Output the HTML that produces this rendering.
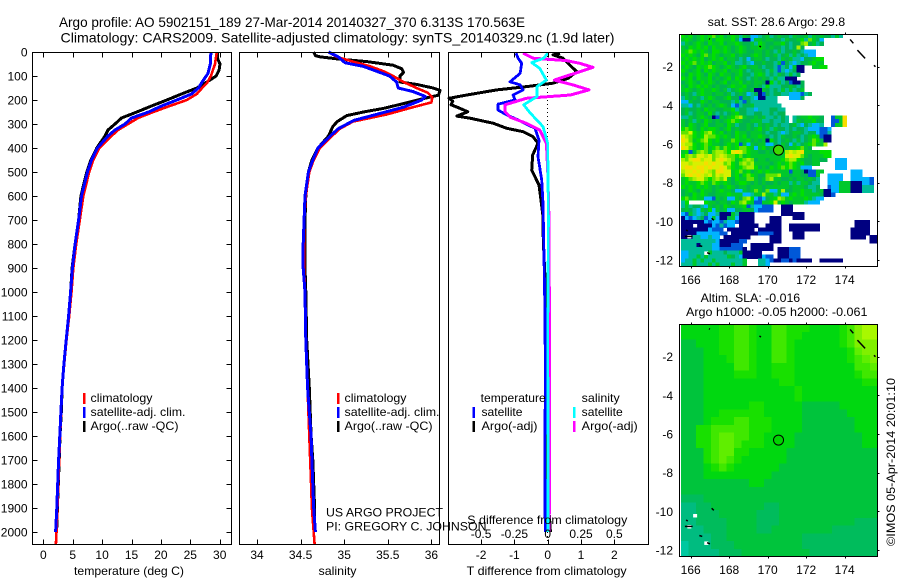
<!DOCTYPE html>
<html>
<head>
<meta charset="utf-8">
<title>Argo profile 5902151_189</title>
<style>
html,body{margin:0;padding:0;background:#fff;}
svg{display:block;}
text{font-family:"Liberation Sans",sans-serif;font-size:12px;fill:#000;}
.t14{font-size:14px;}
</style>
</head>
<body>
<svg id="chart" xmlns="http://www.w3.org/2000/svg" width="900" height="580" viewBox="0 0 900 580">
  <rect x="0" y="0" width="900" height="580" fill="#fff"/>
  <text class="t14" x="59" y="27" textLength="466" lengthAdjust="spacingAndGlyphs">Argo profile: AO 5902151_189 27-Mar-2014 20140327_370 6.313S 170.563E</text>
  <text class="t14" x="60.5" y="42.5" textLength="554" lengthAdjust="spacingAndGlyphs">Climatology: CARS2009. Satellite-adjusted climatology: synTS_20140329.nc (1.9d later)</text>
  <g id="plots"></g>

  <text x="74" y="575" textLength="110" lengthAdjust="spacingAndGlyphs">temperature (deg C)</text>
  <text x="318.5" y="575" textLength="38" lengthAdjust="spacingAndGlyphs">salinity</text>
  <text x="466.7" y="575" textLength="160" lengthAdjust="spacingAndGlyphs">T difference from climatology</text>
  <text x="467.3" y="524" textLength="160" lengthAdjust="spacingAndGlyphs">S difference from climatology</text>

  <g>
    <rect x="83" y="393" width="2.5" height="11" fill="#f00"/>
    <text x="90.5" y="402" textLength="62" lengthAdjust="spacingAndGlyphs">climatology</text>
    <rect x="83" y="407" width="2.5" height="11" fill="#00f"/>
    <text x="90.5" y="416" textLength="95" lengthAdjust="spacingAndGlyphs">satellite-adj. clim.</text>
    <rect x="83" y="421" width="2.5" height="11" fill="#000"/>
    <text x="90.5" y="430" textLength="88" lengthAdjust="spacingAndGlyphs">Argo(..raw -QC)</text>
  </g>
  <g>
    <rect x="337" y="393" width="2.5" height="11" fill="#f00"/>
    <text x="344.5" y="402" textLength="62" lengthAdjust="spacingAndGlyphs">climatology</text>
    <rect x="337" y="407" width="2.5" height="11" fill="#00f"/>
    <text x="344.5" y="416" textLength="95" lengthAdjust="spacingAndGlyphs">satellite-adj. clim.</text>
    <rect x="337" y="421" width="2.5" height="11" fill="#000"/>
    <text x="344.5" y="430" textLength="88" lengthAdjust="spacingAndGlyphs">Argo(..raw -QC)</text>
  </g>
  <g>
    <text x="480.7" y="402" textLength="65" lengthAdjust="spacingAndGlyphs">temperature</text>
    <rect x="472.5" y="407" width="2.5" height="11" fill="#00f"/>
    <text x="481.5" y="416" textLength="41" lengthAdjust="spacingAndGlyphs">satellite</text>
    <rect x="472.5" y="421" width="2.5" height="11" fill="#000"/>
    <text x="481.5" y="430" textLength="56" lengthAdjust="spacingAndGlyphs">Argo(-adj)</text>
    <text x="581.7" y="402" textLength="38" lengthAdjust="spacingAndGlyphs">salinity</text>
    <rect x="573" y="407" width="2.5" height="11" fill="#0ff"/>
    <text x="581.7" y="416" textLength="41" lengthAdjust="spacingAndGlyphs">satellite</text>
    <rect x="573" y="421" width="2.5" height="11" fill="#f0f"/>
    <text x="581.7" y="430" textLength="56" lengthAdjust="spacingAndGlyphs">Argo(-adj)</text>
  </g>
  <text x="326" y="516.5" textLength="117" lengthAdjust="spacingAndGlyphs">US ARGO PROJECT</text>
  <text x="326" y="530.5" textLength="160.5" lengthAdjust="spacingAndGlyphs">PI: GREGORY C. JOHNSON</text>

  <text x="707.7" y="26" textLength="137.5" lengthAdjust="spacingAndGlyphs">sat. SST: 28.6 Argo: 29.8</text>
  <text x="700.7" y="302" textLength="99.5" lengthAdjust="spacingAndGlyphs">Altim. SLA: -0.016</text>
  <text x="686" y="316" textLength="181.5" lengthAdjust="spacingAndGlyphs">Argo h1000: -0.05 h2000: -0.061</text>
  <text transform="translate(895,546) rotate(-90)" x="0" y="0" textLength="168" lengthAdjust="spacingAndGlyphs">©IMOS 05-Apr-2014 20:01:10</text>
</svg>

<script>
// ---- axis tick data ----
var depthTicks = [0,100,200,300,400,500,600,700,800,900,1000,1100,1200,1300,1400,1500,1600,1700,1800,1900,2000];
var tempTicks = [0,5,10,15,20,25,30];
var salTicks = [34,34.5,35,35.5,36];
var salTickLabels = ['34','34.5','35','35.5','36'];
var tDiffTicks = [-2,-1,0,1,2];
var sDiffTicks = [-0.5,-0.25,0,0.25,0.5];
var sDiffTickLabels = ['-0.5','-0.25','0','0.25','0.5'];
var lonTicks = [166,168,170,172,174];
var latTicks = [-2,-4,-6,-8,-10,-12];

// ---- temperature profiles ----
var tempArgoDepth = [0,25,50,75,100,130,150,175,200,225,250,275,300,325,350,400,450,500,600,700,800,900,1000,1100,1200,1300,1400,1500,1600,1700,1800,1900,2000];
var tempArgo = [29.6,29.6,30.05,29.9,29.4,27.5,26.1,23.5,21,18.4,15.9,13.3,12.2,11,10.5,9.1,8.1,7.4,6.4,6,5.4,4.9,4.65,4.3,3.9,3.5,3.2,3.06,2.84,2.7,2.55,2.4,2.27];
var tempClimDepth = [0,50,100,130,150,175,200,225,250,275,300,325,350,400,450,500,600,700,800,900,1000,1100,1200,1300,1400,1500,1600,1700,1800,1900,2000,2050];
var tempClim = [29.5,29.2,28.5,27.8,27,26.1,24.4,21.5,18.7,16.1,14.4,12.7,11.6,9.5,8.5,7.8,6.8,6.2,5.6,5.1,4.8,4.4,3.95,3.55,3.2,3.05,2.85,2.7,2.55,2.4,2.25,2.15];
var tempSatDepth = [0,50,90,125,150,175,200,225,250,275,300,325,350,400,450,500,600,700,800,900,1000,1100,1200,1300,1400,1500,1600,1700,1800,1900,2000];
var tempSat = [28.5,28.4,28,27,26.4,25.2,22.7,20.1,17.9,15,13.9,12.2,11,9.2,8.2,7.5,6.5,6,5.4,4.95,4.65,4.3,3.9,3.5,3.2,3,2.8,2.6,2.45,2.3,2.1];

// ---- salinity profiles ----
var salArgoDepth = [0,15,20,30,40,55,70,85,100,125,135,150,160,180,195,215,235,250,265,290,310,350,400,450,500,600,700,800,900,1000,1200,1400,1500,1600,1700,1800,1900,2000];
var salArgo = [34.65,34.67,34.72,34.95,35.26,35.56,35.66,35.68,35.64,35.64,35.83,36.02,36.1,36.08,35.9,35.68,35.45,35.22,35.03,34.92,34.87,34.82,34.7,34.63,34.59,34.56,34.55,34.55,34.55,34.56,34.57,34.6,34.61,34.62,34.64,34.65,34.66,34.66];
var salClimDepth = [0,20,40,60,80,100,125,150,170,190,210,230,260,290,320,350,400,450,500,600,700,800,900,1000,1200,1400,1500,1600,1700,1800,1900,2000,2050];
var salClim = [34.82,34.91,35.1,35.3,35.45,35.56,35.68,35.83,35.96,36.01,36,35.79,35.49,35.1,34.95,34.86,34.72,34.65,34.6,34.56,34.54,34.54,34.54,34.55,34.56,34.58,34.59,34.6,34.61,34.62,34.63,34.65,34.66];
var salSatDepth = [0,20,45,60,80,100,125,150,165,185,200,230,260,285,320,350,400,450,500,600,700,800,900,1000,1200,1400,1500,1600,1700,1800,1900,2000];
var salSat = [34.82,34.93,35.01,35.22,35.37,35.52,35.6,35.62,35.79,35.93,35.89,35.68,35.37,35.11,34.93,34.84,34.7,34.64,34.59,34.55,34.54,34.53,34.53,34.55,34.56,34.58,34.6,34.62,34.63,34.64,34.65,34.67];

// ---- difference profiles ----
var dTArgoDepth = [5,12,26,47,82,110,130,144,158,179,193,205,220,235,249,267,276,297,318,332,353,380,429,492,554,617,686,742,853,1000,1200,1400,1500,1650,1800,1950,2000];
var dTArgo = [0.37,0.16,0.46,0.61,0.87,0.61,0.16,-0.63,-1.53,-2.43,-2.96,-2.85,-2.9,-2.63,-2.4,-2.73,-2.33,-1.63,-1.23,-0.74,-0.44,-0.29,-0.45,-0.48,-0.26,-0.2,-0.14,-0.14,-0.11,-0.06,-0.03,0.02,0.04,-0.02,-0.04,0.06,0.08];
var dTSatDepth = [5,26,47,89,124,137,158,179,200,217,242,262,283,318,367,436,533,630,853,1100,1400,1650,1900,2000];
var dTSat = [-0.95,-0.89,-0.78,-0.83,-1.13,-0.83,-0.74,-1.04,-0.98,-1.49,-1.49,-1.23,-0.89,-0.38,-0.26,-0.29,-0.18,-0.14,-0.11,-0.08,-0.07,-0.09,-0.08,-0.07];
var dSArgoDepth = [5,26,36,47,64,82,117,137,158,179,193,220,249,272,297,325,380,492,700,853,1200,1500,1800,2000];
var dSArgo = [-0.185,-0.11,0.14,0.24,0.34,0.24,0.05,0.19,0.31,0.17,-0.16,-0.32,-0.32,-0.28,-0.16,-0.06,-0.01,0,0.01,0.01,0.015,0.015,0.015,0.01];
var dSSatDepth = [5,26,44,68,117,144,186,220,255,311,380,700,1200,1600,2000];
var dSSat = [0,-0.03,-0.12,-0.06,-0.01,-0.08,-0.08,-0.18,-0.13,-0.035,0,0.005,0,0.003,0.003];

// ---- SST map cells: one palette key per 0.2 degree cell, '.' = no data ----
var sstRows = [
"cbcabcbcdb cabcbtbauu tabtabaatb aabtbabaat bt",
"bcbabcbcac cbbcauwwub babbaatbaa bctdbau",
"tbabcbacbb cabbcbaabt cbaabbcata adeabta",
"bacbcbcacb bcbabcbabb cbabaatata ea",
"bcdcbcbacc bcbabcbaab babatbtaab atuuu",
"cbcbacdbcb abbcabaabc bababtabtb tatuu",
"bcbcbcabcb cabbatauab bataatbabt tuaabcc",
"cbcdbcbcab bcabttatua abaatbvatu taabcbb",
"bcbacbcdcb abcbabcabb ataatvtaub ww..bbcc",
"cbabcacbcb bcabbcatab batbtvtuta ww",
"bacbcbacba cbbabcaatb cbtatbatbt a",
"cbcacbbcab abcacbatab abatbttwww",
"abcbacbcba bcabbcabab bawctbtavw wa",
"bacbcbcbab aabcbbcaab atctttaaba ta",
"bcbabcbbcb abtabcbabw wbatatbtbt ab",
"abatbcbbab babtabauta wvataattuu uvta",
"tbabatbcba abcaavaatu wwttt...uu ua",
"uubaacbabb aaatbtvatt ttttt",
"ttuatbabab cbauvtaabt ttttt t",
"abaabacbba abbctaattu tttaatt",
"abtabbacat atabcaatta attataa",
"ttbabcbawv babcdebaab abttatat.t abbcbba..v bbg",
"babtbacbab abcdcbaabb bttattat.t babbcaa..v vbg",
"bacbabcaab bacbtaabat babatattab tuatuut..v bbg",
"cdcbacbccb abcabaabab cabtbaatat aatuuuvvu",
"ddfcbcdecb cabacbbabb bataatutab bataauvvt",
"fedcbceddc bcbacbcabb cbatatbaab atabcbvww",
"gfdbcdecbc abbdcbbcab abwcatabat btabdcaww",
"feecbcdcbb abcbcvbuba bbuuatbaub tabcdbbe",
"gfdcbcdbcd bdcbcddcbu bcabaababb cdba",
"bcvbdedbde edcfgfdcbb aababbbefe fgbbbbccc",
"cdedffefde feddcdbcbb bbbbbbbfgf fdbabbbcc",
"edfggeffdf gfedbcdeda bbabbbcdee cbaabbaa.. uuu",
"ffefffgfgf fdecbdedeb bbbabcbcdc bcaabb.... uuu",
"fggfggfgff gfdcbcdeec abacbcdcdc buuu...... uuu",
"effgfgfedg gffbcdbcab cbcbbbbbvb bawvvbb... ....uuu",
"dfgfgfefdf effbcacdcb aadddebbab baavvb..uu uu..uuu",
"bcdeffdcde dfbacbbddb abdebbaaba bbabat..uu uu..uuuuuv",
"bcbbcdcbdc bcbabccbab abaababbtb tbbatt..uu ubbbwwwuuv",
"cbcbcbcbab abcbabbabb babbbbbbab bbatta..vu ubbbwwwttt",
"abcbacbbab cbbauubabd baduubeaab bcbbtabwwu ubbbwwwttt",
"abacbcbaab bbcbbbuutb bebbtbuubc bcbbbbawwv",
"cdbcbbuuvb abuubadecu vuabcedbcb bbcbtuu",
"tc....cbba bbacbdecbv vbbcfbcbab bbtuuu",
"tbtaatubab acbabbcvtu uvvv..www.",
"abatubacub abuuaabbau vvvv..www.",
"uvbtutauut wwwbtwwww. ......wwww ww",
"wuvutavubu wwabuwwww. ...www...w ww",
"wwwwwwuvuu vtuuvwwww. ...www.... .......... .....wwww",
"wwwwwwwwuv tvuu.wwwww ..wwww..ww wwwwww.... .....wwww",
"wwwwwwwuvv v.wwwwwww. wwwwww..ww wwwwww.... ....wwwww",
"wwwwuuuuuu vv.wwwwwww vvvvww...w ww........ ....wwwww",
"wwwttuutuu .wwwwwww.. ...www...w ww........ ....wwww.w w",
"tttttttttu wwwwwvv... ...www.... .......... .........w w",
"ttttwtttuu wwwvvv..ww wwww......",
"ttttttttuu vvvvvvw.ww wwww.wwwvv v",
"uutttttbtt tatttbwwww w....wwwvv v",
"uuttbtbttt ttbatuwwww wuvv.wwwvv v",
"uttbtbttbt ttttttb... ttuvwwvvwv wwww..wwww ww",
"tttbtttbtb tttbttb... ttu......."
];
var sstKeys = ['a','b','c','d','e','f','g','t','u','v','w'];
var sstColours = ['#00b450','#00c82c','#00e000','#60e400','#a8f000','#d8f000','#f8dc00','#00bc98','#00b4ff','#0058d8','#000080'];

// ---- SLA map cells: one colour level per 0.4 degree cell ----
var slaRows = [
"44444556654466555444456899",
"44444556654466554444456899",
"33444556654466544444456888",
"33344556654466544444445788",
"33344456654466544444445678",
"33344446654455544444444667",
"33344445554455544444444566",
"33344444444445544444444455",
"33344444444444454444444444",
"33344444444444454444444444",
"33344444455444443333344444",
"33344555555444443333334444",
"33345556655544443333333444",
"33556666655544443333333444",
"33556776655444433333333344",
"33556776555444433333333344",
"33356775544444333333333333",
"33356765444444333333333333",
"33345654444443333333333333",
"33344444444433333333333333",
"33333333344333333333333333",
"33333333333333333333333333",
"22233333333333333333333333",
"11223333333223333333333333",
"11222333332223333333333333",
"11222233332223333333333222",
"11122233332233333333222222",
"11112233333333332222222222",
"01112223333333332222222222",
"01111222333333333222222222"
];
var slaColours = ['#00c8a0','#00bc80','#00bc5c','#00c43c','#00d810','#18e000','#40e800','#60ee00','#80f000','#a8f800'];

// ---- coastline fragments (longitude, latitude) ----
var coastLon = [[174.28,174.45],[174.66,175.06],[175.52,175.6],[166.95,167.0],[169.57,169.65],[167.09,167.2],[165.76,165.85],[166.45,166.6],[166.85,167.0],[165.7,166.1]];
var coastLat = [[-0.59,-0.79],[-1.14,-1.57],[-1.93,-2.0],[-0.55,-0.58],[-0.93,-0.98],[-9.84,-9.95],[-10.45,-10.5],[-11.25,-11.3],[-11.62,-11.68],[-10.78,-10.78]];

// ---- small islands shown as white gaps (longitude, latitude) ----
var islandLon = [166.23,166.81,165.93];
var islandLat = [-10.24,-11.66,-10.81];

// ---- float position ----
var floatLon = 170.563;
var floatLat = -6.313;
</script>

<script>
var NS = 'http://www.w3.org/2000/svg';
var layer = document.getElementById('plots');

function yDepth(d){ return 52 + d * 0.24; }
function xTemp(v){ return 43.3 + v * 5.88; }
function xSal(v){ return 257 + (v - 34) * 87.2; }
function xDT(v){ return 547.7 + v * 33.3; }
function xDS(v){ return 547.7 + v * 133.3; }
function xLon(v){ return 690.7 + (v - 166) * 19.25; }
function yLat1(v){ return 66.7 + (-2 - v) * 19.33; }
function yLat2(v){ return 356.7 + (-2 - v) * 19.33; }

function shape(tag, name, attrs, parent){
  var el = document.createElementNS(NS, tag);
  
  
  for (var k in attrs) { el.setAttribute(k, attrs[k]); }
  (parent || layer).appendChild(el);
  return el;
}
function seg(name, x1, y1, x2, y2){
  return shape('line', name, {x1:x1, y1:y1, x2:x2, y2:y2, stroke:'#000', 'stroke-width':1, 'shape-rendering':'crispEdges'});
}
function label(name, x, y, str, anchor){
  var el = shape('text', name, {x:x, y:y, 'text-anchor':anchor || 'middle'});
  el.textContent = str;
  return el;
}
function frame(name, x, y, w, h){
  return shape('rect', name, {x:x, y:y, width:w, height:h, fill:'none', stroke:'#000', 'stroke-width':1, 'shape-rendering':'crispEdges'});
}
function profile(name, colour, width, depths, values, xf){
  var pts = [];
  for (var i = 0; i < values.length; i++) {
    pts.push(xf(values[i]).toFixed(1) + ',' + yDepth(depths[i]).toFixed(1));
  }
  return shape('polyline', name, {points:pts.join(' '), fill:'none', stroke:colour, 'stroke-width':width, 'stroke-linejoin':'round', 'shape-rendering':'crispEdges'});
}

// ---- profile panels ----
var panelTop = 52.5, panelBottom = 544.5;
var p1L = 32.5, p1R = 231.5, p2L = 239.5, p2R = 439.5, p3L = 448.5, p3R = 648.5;

shape('line', 'zero-difference-line', {x1:547.7, y1:52, x2:547.7, y2:544, stroke:'#000', 'stroke-width':1, 'stroke-dasharray':'1 3', 'shape-rendering':'crispEdges'});

profile('temperature-argo-line', '#000', 3, tempArgoDepth, tempArgo, xTemp);
profile('temperature-climatology-line', '#f00', 2.6, tempClimDepth, tempClim, xTemp);
profile('temperature-satellite-line', '#00f', 3, tempSatDepth, tempSat, xTemp);

profile('salinity-argo-line', '#000', 3, salArgoDepth, salArgo, xSal);
profile('salinity-climatology-line', '#f00', 2.6, salClimDepth, salClim, xSal);
profile('salinity-satellite-line', '#00f', 3, salSatDepth, salSat, xSal);

profile('t-difference-argo-line', '#000', 3, dTArgoDepth, dTArgo, xDT);
profile('t-difference-satellite-line', '#00f', 2.8, dTSatDepth, dTSat, xDT);
profile('s-difference-argo-line', '#f0f', 3, dSArgoDepth, dSArgo, xDS);
profile('s-difference-satellite-line', '#0ff', 2.8, dSSatDepth, dSSat, xDS);

frame('temperature-panel-frame', p1L, panelTop, p1R - p1L, panelBottom - panelTop);
frame('salinity-panel-frame', p2L, panelTop, p2R - p2L, panelBottom - panelTop);
frame('difference-panel-frame', p3L, panelTop, p3R - p3L, panelBottom - panelTop);

depthTicks.forEach(function(d){
  var y = Math.round(yDepth(d)) + 0.5;
  if (d > 0) {
    seg('depth-tick-left', p1L, y, p1L + 5, y);
    seg('depth-tick-right', p1R - 5, y, p1R, y);
  }
  label('depth-tick-label', 27.5, yDepth(d) + 4.5, String(d), 'end');
});
tempTicks.forEach(function(v){
  var x = Math.round(xTemp(v)) + 0.5;
  seg('temperature-tick-top', x, panelTop, x, panelTop + 5);
  seg('temperature-tick-bottom', x, panelBottom - 5, x, panelBottom);
  label('temperature-tick-label', xTemp(v), 559, String(v));
});
salTicks.forEach(function(v, i){
  var x = Math.round(xSal(v)) + 0.5;
  seg('salinity-tick-top', x, panelTop, x, panelTop + 5);
  seg('salinity-tick-bottom', x, panelBottom - 5, x, panelBottom);
  label('salinity-tick-label', xSal(v), 559, salTickLabels[i]);
});
tDiffTicks.forEach(function(v){
  var x = Math.round(xDT(v)) + 0.5;
  seg('t-difference-tick-top', x, panelTop, x, panelTop + 5);
  seg('t-difference-tick-bottom', x, panelBottom - 5, x, panelBottom);
  label('t-difference-tick-label', xDT(v), 559, String(v));
});
sDiffTicks.forEach(function(v, i){
  label('s-difference-tick-label', xDS(v), 538, sDiffTickLabels[i]);
});

// ---- maps ----
var mapL = 679.5, mapR = 877.5;
var cellW = 3.85, cellH = 3.87;
var sstX0 = 681, sstY0 = 34;

var sstGroup = shape('g', 'sst-heatmap', {'shape-rendering':'crispEdges'});
sstRows.forEach(function(raw, r){
  var row = raw.replace(/ /g, '');
  for (var c = 0; c < row.length && c < 51; c++) {
    var idx = sstKeys.indexOf(row.charAt(c));
    if (idx < 0) { continue; }
    shape('rect', 'sst-cell', {x:(sstX0 + c * cellW).toFixed(2), y:(sstY0 + r * cellH).toFixed(2), width:cellW + 0.3, height:cellH + 0.3, fill:sstColours[idx]}, sstGroup);
  }
});

var slaW = 7.55, slaH = 7.75, slaY0 = 324;
var slaGroup = shape('g', 'sla-heatmap', {'shape-rendering':'crispEdges'});
slaRows.forEach(function(row, r){
  for (var c = 0; c < 26; c++) {
    var lev = row.charAt(Math.min(c, row.length - 1));
    var cw = c === 25 ? slaW : slaW + 0.3;
    shape('rect', 'sla-cell', {x:(sstX0 + c * slaW).toFixed(2), y:(slaY0 + r * slaH).toFixed(2), width:cw, height:slaH + 0.3, fill:slaColours[+lev]}, slaGroup);
  }
});

function drawCoast(prefix, yf){
  islandLon.forEach(function(lon, i){
    shape('rect', prefix + '-island', {x:xLon(lon) - 2, y:yf(islandLat[i]) - 2, width:4, height:3.5, fill:'#fff'});
  });
  coastLon.forEach(function(lons, i){
    shape('line', prefix + '-coastline', {x1:xLon(lons[0]), y1:yf(coastLat[i][0]), x2:xLon(lons[1]), y2:yf(coastLat[i][1]), stroke:'#000', 'stroke-width':1.5});
  });
}
drawCoast('sst', yLat1);
drawCoast('sla', yLat2);

function drawMapAxes(prefix, top, bottom, yf, labelY){
  frame(prefix + '-map-frame', mapL, top, mapR - mapL, bottom - top);
  lonTicks.forEach(function(v){
    var x = Math.round(xLon(v)) + 0.5;
    seg(prefix + '-longitude-tick-top', x, top - 2, x, top);
    seg(prefix + '-longitude-tick-bottom', x, bottom, x, bottom + 2);
    label(prefix + '-longitude-tick-label', xLon(v), labelY, String(v));
  });
  latTicks.forEach(function(v){
    var y = Math.round(yf(v)) + 0.5;
    seg(prefix + '-latitude-tick-right', mapR, y, mapR + 2, y);
    label(prefix + '-latitude-tick-label', 673, yf(v) + 4.5, String(v), 'end');
  });
}
drawMapAxes('sst', 34.5, 266.5, yLat1, 284);
drawMapAxes('sla', 324.5, 556.5, yLat2, 574);

shape('circle', 'sst-float-marker', {cx:xLon(floatLon), cy:yLat1(floatLat), r:5, fill:'#40d800', stroke:'#000', 'stroke-width':1});
shape('circle', 'sla-float-marker', {cx:xLon(floatLon), cy:yLat2(floatLat), r:5, fill:'#00d400', stroke:'#000', 'stroke-width':1});
</script>
</body>
</html>
